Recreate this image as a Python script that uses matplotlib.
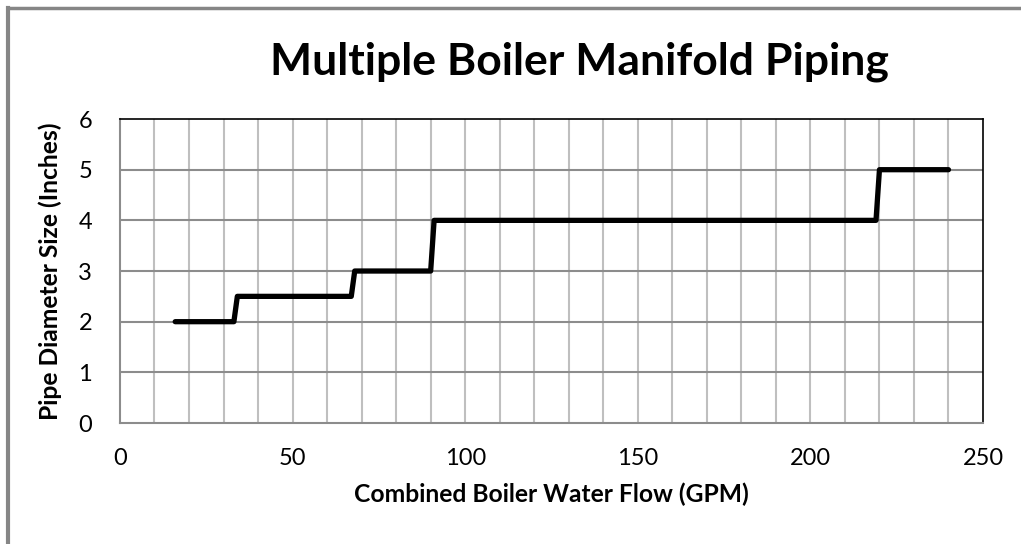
import matplotlib
matplotlib.use("Agg")
import matplotlib.pyplot as plt

plt.rcParams["font.family"] = ["Lato", "DejaVu Sans"]

# step curve: flow (GPM) vs. pipe size (in)
FLOW = [16, 33, 34, 67, 68, 90, 91, 219, 220, 240]
SIZE = [2, 2, 2.5, 2.5, 3, 3, 4, 4, 5, 5]

X_TICKS = [0, 50, 100, 150, 200, 250]
Y_TICKS = [0, 1, 2, 3, 4, 5, 6]


def main():
    fig = plt.figure(figsize=(10.21, 5.44), dpi=100)
    ax = fig.add_axes([0.1175, 0.2224, 0.9628 - 0.1175, 0.7812 - 0.2224])

    # outer gray border (left and top visible)
    fig.add_artist(plt.Line2D([0.0078, 0.0078], [0, 0.985], color="#868686",
                              lw=3, transform=fig.transFigure))
    fig.add_artist(plt.Line2D([0.0078, 1.0], [0.985, 0.985], color="#868686",
                              lw=2.5, transform=fig.transFigure))

    ax.set_xlim(0, 250)
    ax.set_ylim(0, 6)
    ax.set_xticks(X_TICKS)
    ax.set_yticks(Y_TICKS)
    ax.tick_params(which="both", length=0)
    ax.tick_params(axis="x", labelsize=17, pad=18)
    ax.tick_params(axis="y", labelsize=17, pad=20)

    for x in range(10, 250, 10):
        ax.axvline(x, color="#bfbfbf", lw=1.5, zorder=1)
    for y in range(1, 6):
        ax.axhline(y, color="#8c8c8c", lw=1.5, zorder=1)

    ax.spines["left"].set_color("#8c8c8c")
    ax.spines["bottom"].set_color("#8c8c8c")
    ax.spines["left"].set_linewidth(1.5)
    ax.spines["bottom"].set_linewidth(1.5)
    ax.spines["top"].set_color("black")
    ax.spines["right"].set_color("black")
    ax.spines["top"].set_linewidth(1.2)
    ax.spines["right"].set_linewidth(1.2)

    ax.plot(FLOW, SIZE, color="black", lw=3.8, solid_capstyle="round",
            solid_joinstyle="round", zorder=3)

    ax.set_xlabel("Combined Boiler Water Flow (GPM)", fontsize=17.7,
                  fontweight="bold", labelpad=10)
    ax.set_ylabel("Pipe Diameter Size (Inches)", fontsize=17.7,
                  fontweight="bold", labelpad=12)
    fig.text(0.568, 0.886, "Multiple Boiler Manifold Piping", fontsize=32,
             fontweight="bold", ha="center", va="center")

    fig.savefig("out.png", dpi=100)


if __name__ == "__main__":
    main()
